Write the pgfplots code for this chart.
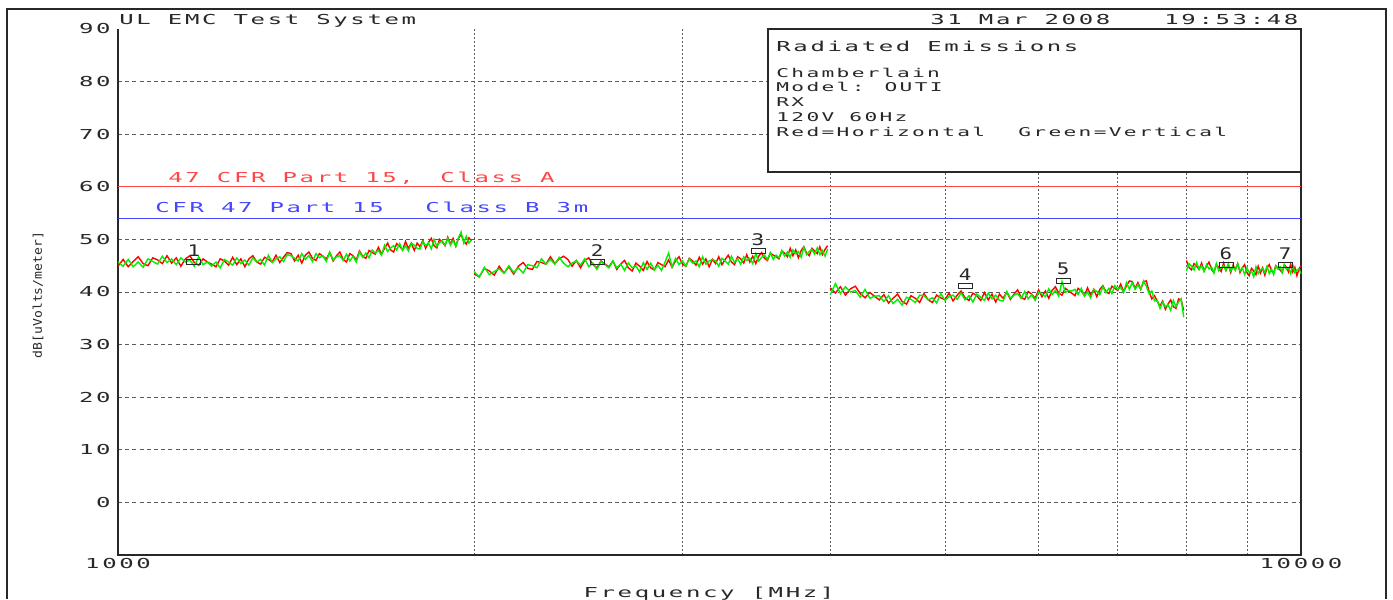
\documentclass[border=0pt]{standalone}
\usepackage{fontspec}
\usepackage{graphicx}
\usepackage{pgfplots}
\usepackage{pgfplotstable}
\pgfplotsset{compat=1.18}

% plotter-style lettering: wide, evenly pitched glyphs
\newfontfamily\hpfont[LetterSpace=11]{DejaVu Sans Mono}
\newfontfamily\hpplain{DejaVu Sans Mono}
\newcommand\hpA{\hpfont\fontsize{6.85pt}{8pt}\selectfont}
\newcommand\hpB{\hpfont\fontsize{6.05pt}{7.4pt}\selectfont}
\newcommand\hpM{\hpplain\fontsize{8pt}{9pt}\selectfont}
\newcommand\hpY{\hpplain\fontsize{6pt}{7pt}\selectfont}
\newcommand\hs[1]{\scalebox{1.75}[1]{#1}}
\newcommand\hsm[1]{\scalebox{1.3}[1]{#1}}
\newcommand\hsy[1]{\scalebox{1.09}[1]{#1}}

\definecolor{hred}{RGB}{255,0,0}
\definecolor{vgreen}{RGB}{0,240,0}
\definecolor{limA}{RGB}{255,70,70}
\definecolor{limB}{RGB}{70,70,255}
\definecolor{gridgray}{RGB}{90,90,90}
\definecolor{ink}{RGB}{40,40,40}

% small rounded marker box
\pgfdeclareplotmark{mkbox}{%
  \pgfsetcornersarced{\pgfpoint{1pt}{1pt}}%
  \pgfpathmoveto{\pgfpoint{-3.5pt}{-1.25pt}}%
  \pgfpathlineto{\pgfpoint{3.5pt}{-1.25pt}}%
  \pgfpathlineto{\pgfpoint{3.5pt}{1.25pt}}%
  \pgfpathlineto{\pgfpoint{-3.5pt}{1.25pt}}%
  \pgfpathclose
  \pgfusepathqstroke}

% f [MHz], v = vertical (green), h = horizontal (red), dBuV/m
\pgfplotstableread{
f v h
1000 45.7 44.9
1010 44.9 46.2
1020 46.2 44.8
1030 44.8 45.8
1040 45.7 46.7
1050 44.7 45.4
1060 46.3 45.0
1070 45.8 46.5
1080 45.3 46.1
1090 46.8 45.4
1100 45.6 46.9
1110 46.3 45.5
1120 45.2 46.5
1130 46.5 44.9
1140 45.7 46.3
1150 46.1 46.9
1160 44.9 45.6
1170 46.7 45.1
1180 45.2 46.3
1190 45.7 45.7
1200 44.9 45.3
1210 45.7 44.8
1220 44.6 46.3
1230 46.2 45.9
1240 45.7 45.1
1250 45.1 46.6
1260 46.5 45.2
1270 45.4 46.3
1280 46.1 44.8
1290 45.1 46.3
1300 46.5 46.9
1310 45.7 45.7
1320 46.2 45.3
1330 45.1 46.6
1340 47.0 46.2
1350 45.6 45.7
1360 46.3 47.0
1370 46.7 45.6
1380 45.8 46.6
1390 47.1 47.5
1400 46.9 47.3
1410 46.4 45.9
1420 45.9 47.0
1430 47.3 45.5
1440 46.2 47.0
1450 46.9 47.6
1460 45.8 46.4
1470 47.3 46.0
1480 46.5 47.3
1490 46.9 46.8
1500 45.8 46.3
1510 47.6 47.5
1520 46.1 45.9
1530 46.7 46.9
1540 46.9 47.6
1550 46.0 46.2
1560 47.2 45.7
1570 45.9 47.3
1580 46.8 46.9
1590 45.7 46.1
1600 47.6 47.8
1610 46.6 46.8
1620 47.4 46.4
1630 46.5 47.9
1640 48.0 47.5
1650 47.4 47.2
1660 47.9 48.5
1670 47.0 47.2
1680 48.9 48.3
1690 47.7 49.3
1700 48.4 48.0
1710 48.8 47.6
1720 48.0 49.2
1730 49.2 48.7
1740 47.9 48.0
1750 48.8 49.6
1760 47.8 48.3
1770 49.3 49.3
1780 48.9 47.9
1790 48.3 49.3
1800 48.2 48.6
1810 49.6 49.8
1820 48.8 48.3
1830 49.3 49.4
1840 48.2 50.2
1850 50.0 48.8
1860 48.7 48.4
1870 49.4 50.0
1880 49.7 49.5
1890 48.9 48.8
1900 50.2 50.4
1910 48.9 49.1
1920 49.8 50.2
1930 48.7 48.7
1940 50.3 50.2
1950 51.4 50.9
1960 49.3 49.7
1970 50.6 49.1
1980 49.3 50.3
1990 49.9 49.7
1995 nan nan
2000 43.9 43.4
2020 42.8 42.9
2040 44.7 44.5
2060 43.3 44.0
2080 43.9 43.2
2100 44.4 44.9
2120 43.6 43.6
2140 45.0 44.8
2160 43.7 43.4
2180 44.6 44.9
2200 43.6 45.6
2220 45.2 44.5
2240 45.0 44.3
2260 44.6 45.8
2280 46.3 45.6
2300 45.3 45.3
2320 46.2 46.7
2340 45.3 45.4
2360 46.6 46.3
2380 45.5 46.8
2400 44.8 46.2
2420 45.5 44.9
2440 45.9 46.0
2460 45.1 44.6
2480 46.3 46.0
2500 44.8 46.5
2520 45.5 45.2
2540 44.3 44.6
2560 45.8 45.9
2580 45.2 45.3
2600 44.6 44.8
2620 45.9 45.9
2640 44.6 44.3
2660 45.3 45.3
2680 44.1 46.0
2700 45.5 44.6
2720 44.6 44.0
2740 45.0 45.5
2760 43.8 44.9
2780 45.6 44.1
2800 44.3 45.8
2820 45.5 44.6
2840 44.2 44.2
2860 45.1 45.6
2880 44.1 45.2
2900 45.7 44.8
2920 47.4 46.1
2940 44.8 44.7
2960 46.4 45.9
2980 45.2 46.7
3000 45.9 45.3
3020 44.9 44.9
3040 46.3 46.4
3060 45.5 45.9
3080 45.9 45.1
3100 44.8 46.6
3120 46.7 45.3
3140 45.3 46.3
3160 45.9 44.8
3180 46.2 46.2
3200 45.9 45.4
3220 44.9 46.7
3240 46.4 45.2
3260 45.9 46.2
3280 45.3 47.0
3300 46.8 45.7
3320 45.6 45.2
3340 46.3 46.7
3360 45.3 46.3
3380 46.7 45.5
3400 46.0 47.1
3420 46.4 45.7
3440 45.4 46.8
3460 47.3 45.4
3480 45.9 46.8
3500 46.6 47.5
3520 47.0 46.4
3540 46.2 46.0
3560 47.5 47.4
3580 46.2 47.0
3600 47.0 46.7
3620 46.5 46.3
3640 47.9 47.8
3660 46.8 47.4
3680 47.6 46.7
3700 46.6 48.3
3720 48.0 46.9
3740 47.3 48.0
3760 47.7 46.5
3780 46.6 47.9
3800 48.5 48.6
3820 47.1 47.4
3840 47.7 46.9
3860 48.1 48.3
3880 47.2 47.8
3900 48.4 47.3
3920 47.1 48.6
3940 47.9 47.1
3960 46.8 48.1
3980 48.2 48.8
3990 nan nan
4000 39.5 40.8
4040 41.6 39.8
4080 39.7 41.0
4120 41.0 39.4
4160 40.0 40.6
4200 40.3 41.1
4240 39.0 39.7
4280 40.5 38.9
4320 38.8 39.9
4360 39.2 39.2
4400 39.3 38.5
4440 38.2 39.5
4480 39.3 37.9
4520 37.8 38.8
4560 38.6 39.6
4600 37.5 38.2
4640 39.0 37.7
4680 38.6 39.3
4720 38.0 38.8
4760 39.4 38.0
4800 39.3 39.7
4840 38.5 38.5
4880 38.9 38.0
4920 37.9 39.4
4960 39.7 38.9
5000 38.4 38.5
5040 39.1 39.8
5080 39.4 38.3
5120 38.6 39.4
5160 39.8 40.2
5200 38.5 38.9
5240 39.3 38.4
5280 38.1 39.8
5320 39.6 39.3
5360 39.0 38.4
5400 38.4 39.9
5440 39.8 38.5
5480 38.7 39.6
5520 39.4 38.1
5560 38.4 39.6
5600 38.3 38.8
5640 40.1 40.0
5680 38.8 38.6
5720 39.4 39.6
5760 39.7 40.4
5800 38.8 39.0
5840 40.1 38.6
5880 38.7 40.1
5920 39.5 39.6
5960 38.4 38.8
6000 40.0 40.4
6040 39.6 39.1
6080 39.1 40.2
6120 40.6 38.8
6160 39.5 40.3
6200 40.3 41.0
6240 39.2 39.8
6280 42.0 39.4
6320 39.9 40.7
6360 40.3 40.2
6400 40.2 39.8
6440 40.5 39.3
6480 39.5 40.7
6520 40.7 40.2
6560 39.2 39.3
6600 40.0 40.8
6640 38.9 39.4
6680 40.5 40.5
6720 40.1 39.1
6760 39.5 40.5
6800 41.0 41.2
6840 39.9 40.1
6880 40.7 39.7
6920 39.7 41.1
6960 41.2 40.7
7000 40.5 40.3
7040 40.9 41.5
7080 39.9 40.1
7120 41.8 41.2
7160 40.5 42.1
7200 41.8 42.0
7240 40.5 40.7
7280 41.4 41.8
7320 40.5 40.5
7360 42.1 42.0
7400 41.1 42.1
7440 39.7 40.1
7480 40.2 38.7
7520 38.3 39.3
7560 38.4 38.2
7600 36.9 37.3
7640 38.1 38.3
7680 37.2 36.7
7720 37.6 37.7
7760 36.5 38.5
7800 38.4 37.2
7840 37.2 36.9
7880 38.1 38.7
7920 38.7 38.5
7960 35.2 36.5
7980 nan nan
8000 44.0 46.0
8040 45.4 44.7
8080 44.9 44.2
8120 44.2 45.4
8160 45.6 44.9
8200 44.3 44.3
8240 45.0 45.5
8280 43.9 44.0
8320 45.2 44.9
8360 44.4 45.7
8400 44.8 44.3
8440 43.6 43.7
8480 45.4 45.2
8520 44.0 44.7
8560 44.6 43.9
8600 45.0 45.5
8640 44.1 44.1
8680 45.4 45.2
8720 44.0 43.7
8760 44.8 45.1
8800 44.1 44.3
8840 45.4 45.4
8880 44.0 43.7
8920 44.6 44.6
8960 43.3 45.2
9000 44.6 43.7
9040 43.7 43.1
9080 44.0 44.5
9120 42.9 44.0
9160 44.8 43.3
9200 43.5 44.9
9240 44.2 43.6
9280 44.5 44.6
9320 43.7 43.2
9360 44.9 44.6
9400 43.5 45.2
9440 44.4 44.1
9480 43.3 43.6
9520 44.9 45.0
9560 44.4 44.5
9600 44.8 44.2
9640 43.7 43.7
9680 45.1 45.2
9720 44.3 44.7
9760 44.6 43.8
9800 43.5 45.3
9840 45.2 43.8
9880 43.7 44.7
9920 44.2 43.1
9960 44.4 44.4
10000 43.5 45.0
}\traces

% peak markers
\pgfplotstableread{
f v n
1159 45.7 1
2541 45.7 2
3475 47.8 3
5200 41.1 4
6293 42.2 5
8641 45.2 6
9694 45.2 7
}\markertab

\begin{document}
\begin{tikzpicture}
\begin{scope}[x=0.5pt,y=-0.5pt]
\useasboundingbox (0,0) rectangle (1393,599);
% page frame
\draw[ink, line width=0.6pt] (7,599) -- (7,9) -- (1386,9) -- (1386,599);
\end{scope}

\begin{axis}[
  at={(59pt,-277.5pt)}, anchor=south west,
  scale only axis, width=591.5pt, height=263pt,
  xmode=log, xmin=1000, xmax=10000, ymin=-10, ymax=90,
  log basis x=10,
  xtick={1000,10000}, xticklabels={\hs{1000},\hs{10000}},
  minor xtick={2000,3000,4000,5000,6000,7000,8000,9000},
  ytick={0,10,20,30,40,50,60,70,80},
  yticklabels={\hs{0},\hs{10},\hs{20},\hs{30},\hs{40},\hs{50},\hs{60},\hs{70},\hs{80}},
  extra y ticks={90}, extra y tick labels={\hs{90}},
  extra y tick style={grid=none},
  ymajorgrids, xminorgrids,
  major grid style={gridgray, line width=0.4pt, dash pattern=on 2pt off 1.6pt},
  minor grid style={gridgray, line width=0.4pt, dash pattern=on 0.8pt off 1.2pt},
  major tick length=0pt, minor tick length=0pt,
  axis line style={draw=none},
  xticklabel style={font=\hpA, text=ink, anchor=north, inner sep=0pt, yshift=-1.5pt},
  yticklabel style={font=\hpA, text=ink, anchor=east, inner sep=0pt, xshift=-3.5pt},
  unbounded coords=jump,
  clip=false,
]
\draw[ink, line width=0.7pt] (rel axis cs:0,1) -- (rel axis cs:0,0)
  -- (rel axis cs:1,0) -- (rel axis cs:1,1);

% limit lines
\addplot[limA, line width=0.6pt, no marks] coordinates {(1000,60) (10000,60)};
\addplot[limB, line width=0.6pt, no marks] coordinates {(1000,54) (10000,54)};

% horizontal, then vertical polarisation
\addplot[hred, line width=0.7pt, no marks] table[x=f, y=h] {\traces};
\addplot[vgreen, line width=0.7pt, no marks] table[x=f, y=v] {\traces};

% markers
\addplot[only marks, mark=mkbox, ink, line width=0.4pt,
  nodes near coords={\hsm{\pgfplotspointmeta}}, point meta=explicit symbolic,
  every node near coord/.append style={font=\hpM, text=ink, anchor=center,
    yshift=5.6pt, inner sep=0pt}]
  table[x=f, y=v, meta=n] {\markertab};
\end{axis}

\begin{scope}[x=0.5pt,y=-0.5pt]
% info box
\draw[ink, line width=0.6pt, fill=white] (768,29) rectangle (1301,172);
\node[font=\hpA, text=ink, anchor=base west, inner sep=0pt] at (776,51) {\hs{Radiated Emissions}};
\node[font=\hpB, text=ink, anchor=base west, inner sep=0pt] at (776,77) {\hs{Chamberlain}};
\node[font=\hpB, text=ink, anchor=base west, inner sep=0pt] at (776,91) {\hs{Model: OUTI}};
\node[font=\hpB, text=ink, anchor=base west, inner sep=0pt] at (776,106) {\hs{RX}};
\node[font=\hpB, text=ink, anchor=base west, inner sep=0pt] at (776,121) {\hs{120V 60Hz}};
\node[font=\hpB, text=ink, anchor=base west, inner sep=0pt] at (776,136) {\hs{Red=Horizontal}};
\node[font=\hpB, text=ink, anchor=base west, inner sep=0pt] at (1018,136) {\hs{Green=Vertical}};

% header
\node[font=\hpA, text=ink, anchor=base west, inner sep=0pt] at (119,24) {\hs{UL EMC Test System}};
\node[font=\hpA, text=ink, anchor=base west, inner sep=0pt] at (930,24) {\hs{31 Mar 2008}};
\node[font=\hpA, text=ink, anchor=base west, inner sep=0pt] at (1164,24) {\hs{19:53:48}};

% limit labels
\node[font=\hpA, text=limA, anchor=base west, inner sep=0pt] at (168,182) {\hs{47 CFR Part 15,}};
\node[font=\hpA, text=limA, anchor=base west, inner sep=0pt] at (440,182) {\hs{Class A}};
\node[font=\hpA, text=limB, anchor=base west, inner sep=0pt] at (155,212) {\hs{CFR 47 Part 15}};
\node[font=\hpA, text=limB, anchor=base west, inner sep=0pt] at (425,212) {\hs{Class B 3m}};

% axis titles
\node[font=\hpA, text=ink, anchor=base, inner sep=0pt] at (709,597) {\hs{Frequency [MHz]}};
\node[font=\hpY, text=ink, rotate=90, inner sep=0pt] at (38,295) {\hsy{dB[uVolts/meter]}};
\end{scope}
\end{tikzpicture}
\end{document}
